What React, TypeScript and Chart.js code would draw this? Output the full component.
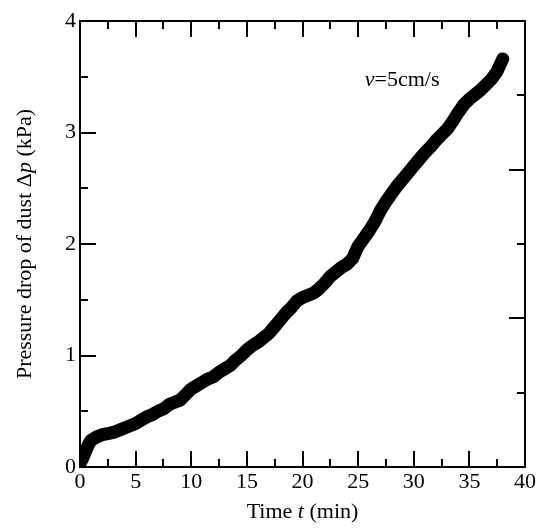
import React, { useEffect, useRef } from 'react';
import { Chart, registerables } from 'chart.js';

Chart.register(...registerables);

// ---- data ----
const timeMin = [
  0, 0.25, 0.5, 0.75, 1, 1.5, 2, 2.5, 3, 3.5, 4, 4.5, 5, 5.5, 6, 6.5, 7, 7.5, 8, 8.5,
  9, 9.5, 10, 10.5, 11, 11.5, 12, 12.5, 13, 13.5, 14, 14.5, 15, 15.5, 16, 16.5, 17, 17.5,
  18, 18.5, 19, 19.5, 20, 20.5, 21, 21.5, 22, 22.5, 23, 23.5, 24, 24.5, 25, 25.5, 26, 26.5,
  27, 27.5, 28, 28.5, 29, 29.5, 30, 30.5, 31, 31.5, 32, 32.5, 33, 33.5, 34, 34.5, 35, 35.5,
  36, 36.5, 37, 37.5, 38,
];
const pressureKPa = [
  0.03, 0.08, 0.14, 0.2, 0.24, 0.27, 0.29, 0.3, 0.31, 0.33, 0.35, 0.37, 0.39, 0.42, 0.45, 0.47, 0.5, 0.52, 0.56, 0.58,
  0.6, 0.65, 0.7, 0.73, 0.76, 0.79, 0.81, 0.85, 0.88, 0.91, 0.96, 1.0, 1.05, 1.09, 1.12, 1.16, 1.2, 1.26,
  1.32, 1.38, 1.43, 1.49, 1.52, 1.54, 1.56, 1.6, 1.65, 1.71, 1.75, 1.79, 1.82, 1.87, 1.98, 2.05, 2.12, 2.2,
  2.3, 2.38, 2.45, 2.52, 2.58, 2.64, 2.7, 2.76, 2.82, 2.87, 2.93, 2.98, 3.03, 3.1, 3.18, 3.25, 3.3, 3.34,
  3.38, 3.43, 3.48, 3.55, 3.66,
];
const xTickLabels = ['0', '5', '10', '15', '20', '25', '30', '35', '40'];
const yTickLabels = ['0', '1', '2', '3', '4'];
const xTitle = [{ t: 'Time ', i: false }, { t: 't', i: true }, { t: ' (min)', i: false }];
const yTitle = [
  { t: 'Pressure drop of dust \u0394', i: false },
  { t: 'p', i: true },
  { t: ' (kPa)', i: false },
];
const note = [{ t: 'v', i: true }, { t: '=5cm/s', i: false }];
const noteAt = { x: 25.6, y: 3.42 };

const FAMILY = '"Liberation Serif", "Times New Roman", serif';
const FS = 22;

function drawRich(ctx: CanvasRenderingContext2D, parts: { t: string; i: boolean }[], x: number, y: number, align: 'left' | 'center') {
  const fonts = parts.map((p) => `${p.i ? 'italic ' : ''}${FS}px ${FAMILY}`);
  const widths = parts.map((p, k) => {
    ctx.font = fonts[k];
    return ctx.measureText(p.t).width;
  });
  const total = widths.reduce((a, b) => a + b, 0);
  let cx = align === 'center' ? x - total / 2 : x;
  ctx.textAlign = 'left';
  ctx.textBaseline = 'alphabetic';
  parts.forEach((p, k) => {
    ctx.font = fonts[k];
    ctx.fillText(p.t, cx, y);
    cx += widths[k];
  });
}

const framePlugin = {
  id: 'frameTicks',
  afterDraw(chart: any) {
    const { ctx, chartArea: a, scales } = chart;
    const xs = scales.x;
    const ys = scales.y;
    const yr = scales.y2;
    ctx.save();
    ctx.strokeStyle = '#000';
    ctx.fillStyle = '#000';
    ctx.lineWidth = 2;
    ctx.lineCap = 'butt';
    ctx.beginPath();
    // bottom & top ticks
    for (let v = 2.5; v < 40; v += 2.5) {
      const len = v % 5 === 0 ? 16 : 8;
      const px = Math.round(xs.getPixelForValue(v));
      ctx.moveTo(px, a.bottom);
      ctx.lineTo(px, a.bottom - len);
      ctx.moveTo(px, a.top);
      ctx.lineTo(px, a.top + len);
    }
    // left ticks
    for (let v = 0.5; v < 4; v += 0.5) {
      const len = v % 1 === 0 ? 16 : 8;
      const py = Math.round(ys.getPixelForValue(v));
      ctx.moveTo(a.left, py);
      ctx.lineTo(a.left + len, py);
    }
    // right ticks (mirrored 0-3 scale)
    for (let v = 0.5; v < 3; v += 0.5) {
      const len = v % 1 === 0 ? 16 : 8;
      const py = Math.round(yr.getPixelForValue(v));
      ctx.moveTo(a.right, py);
      ctx.lineTo(a.right - len, py);
    }
    ctx.stroke();
    ctx.strokeRect(a.left, a.top, a.right - a.left, a.bottom - a.top);

    // titles
    drawRich(ctx, xTitle, (a.left + a.right) / 2, 518, 'center');
    ctx.save();
    ctx.translate(31, (a.top + a.bottom) / 2);
    ctx.rotate(-Math.PI / 2);
    drawRich(ctx, yTitle, 0, 0, 'center');
    ctx.restore();
    // annotation
    drawRich(ctx, note, xs.getPixelForValue(noteAt.x), ys.getPixelForValue(noteAt.y), 'left');
    ctx.restore();
  },
};

export default function App() {
  const ref = useRef<HTMLCanvasElement | null>(null);
  useEffect(() => {
    if (!ref.current) return;
    const chart = new Chart(ref.current, {
      type: 'line',
      data: {
        datasets: [
          {
            data: timeMin.map((t, k) => ({ x: t, y: pressureKPa[k] })),
            borderColor: '#000',
            backgroundColor: '#000',
            borderWidth: 13,
            borderJoinStyle: 'round',
            borderCapStyle: 'round',
            pointRadius: 0,
            tension: 0,
          },
        ],
      },
      options: {
        animation: false,
        responsive: true,
        maintainAspectRatio: false,
        layout: { padding: { top: 21, right: 14, left: 0, bottom: 0 } },
        plugins: { legend: { display: false }, tooltip: { enabled: false } },
        scales: {
          x: {
            type: 'linear',
            min: 0,
            max: 40,
            afterFit: (s: any) => {
              s.height = 62;
            },
            grid: { display: false, drawTicks: false, tickLength: 0 },
            border: { display: false },
            ticks: {
              stepSize: 5,
              padding: 2,
              color: '#000',
              font: { family: FAMILY, size: FS },
              maxRotation: 0,
              callback: (v: any) => xTickLabels[Math.round(Number(v) / 5)] ?? '',
            },
          },
          y: {
            type: 'linear',
            min: 0,
            max: 4,
            afterFit: (s: any) => {
              s.width = 80;
            },
            grid: { display: false, drawTicks: false, tickLength: 0 },
            border: { display: false },
            ticks: {
              stepSize: 1,
              padding: 4,
              color: '#000',
              font: { family: FAMILY, size: FS },
              callback: (v: any) => yTickLabels[Math.round(Number(v))] ?? '',
            },
          },
          y2: {
            type: 'linear',
            position: 'right',
            min: 0,
            max: 3,
            display: false,
          },
        },
      },
      plugins: [framePlugin],
    });
    return () => chart.destroy();
  }, []);
  return (
    <div style={{ position: 'fixed', left: 0, top: 0, width: 539, height: 529, background: '#fff' }}>
      <canvas ref={ref} />
    </div>
  );
}
